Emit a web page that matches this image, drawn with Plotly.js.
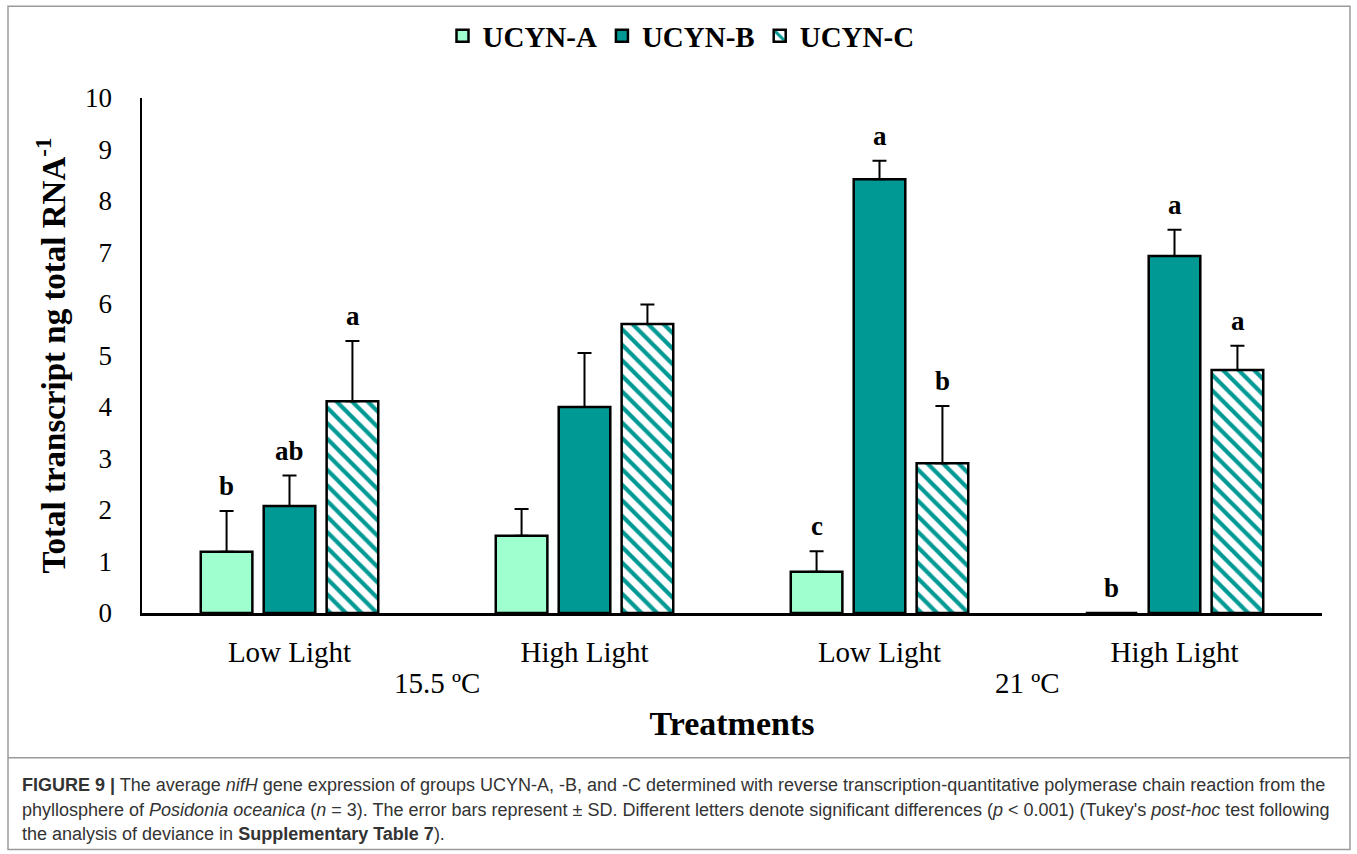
<!DOCTYPE html>
<html>
<head>
<meta charset="utf-8">
<script src="https://cdn.plot.ly/plotly-3.0.1.min.js"></script>
<style>
  html, body { margin: 0; padding: 0; background: #fff; }
  #chart { width: 1357px; height: 854px; }
</style>
</head>
<body>
<div id="chart"></div>
<script>
// ---- Data ----
const temperatures = ['15.5 ºC', '15.5 ºC', '21 ºC', '21 ºC'];
const lightLevels = ['Low Light', 'High Light', 'Low Light', 'High Light'];
const seriesNames = ['UCYN-A', 'UCYN-B', 'UCYN-C'];
const ucynA = [1.19, 1.50, 0.80, 0];
const ucynB = [2.08, 4.00, 8.42, 6.93];
const ucynC = [4.11, 5.61, 2.91, 4.72];
const sdA = [0.79, 0.52, 0.40, 0];
const sdB = [0.59, 1.05, 0.36, 0.51];
const sdC = [1.17, 0.38, 1.11, 0.47];
const lettersA = ['b', '', 'c', 'b'];
const lettersB = ['ab', '', 'a', 'a'];
const lettersC = ['a', '', 'b', 'a'];

// ---- Layout geometry ----
const W = 1357, H = 854;
const L = 142, R = 1322, T = 97, B = 613;
const px = x => (x - L) / (R - L);
const py = y => (B - y) / (B - T);

const serif = 'Liberation Serif, Times New Roman, serif';
const colA = '#9FFFCF', colB = '#009994';
const idx = lightLevels.map((_, i) => i);

function barTrace(name, y, sd, style) {
  return Object.assign({
    type: 'bar',
    name: '<b>' + name + '</b>',
    x: idx,
    y: y,
    customdata: temperatures,
    error_y: { type: 'data', array: sd, arrayminus: sd.map(() => 0), symmetric: false,
               color: '#000', thickness: 2, width: 7 },
  }, style);
}

const traces = [
  barTrace(seriesNames[0], ucynA, sdA, { marker: { color: colA, line: { color: '#000', width: 2.5 } } }),
  barTrace(seriesNames[1], ucynB, sdB, { marker: { color: colB, line: { color: '#000', width: 2.5 } } }),
  barTrace(seriesNames[2], ucynC, sdC, { marker: { color: '#fff', line: { color: '#000', width: 2.5 },
      pattern: { shape: '\\', fgcolor: colB, bgcolor: '#fff', size: 11, solidity: 0.38, fillmode: 'replace' } } })
];

// letter annotations
const slot = 63; // px between bar centres in a group
const annotations = [];
[[lettersA, ucynA, sdA], [lettersB, ucynB, sdB], [lettersC, ucynC, sdC]].forEach((s, j) => {
  s[0].forEach((t, i) => {
    if (!t) return;
    annotations.push({
      xref: 'x', yref: 'y', x: i, y: s[1][i] + s[2][i], xshift: (j - 1) * slot, yshift: 8,
      yanchor: 'bottom', showarrow: false, text: '<b>' + t + '</b>',
      font: { family: serif, size: 27, color: '#000' }
    });
  });
});

// temperature group labels (centred under their groups)
[...new Set(temperatures)].forEach(tp => {
  const ids = idx.filter(i => temperatures[i] === tp);
  annotations.push({
    xref: 'x', yref: 'paper', x: ids.reduce((a, b) => a + b, 0) / ids.length, y: py(683),
    yanchor: 'middle', showarrow: false, text: tp,
    font: { family: serif, size: 29, color: '#000' }
  });
});

// caption
const capFont = { family: 'Liberation Sans, Arial, sans-serif', size: 18, color: '#333' };
const caption = [
  '<b>FIGURE 9 |</b> The average <i>nifH</i> gene expression of groups UCYN-A, -B, and -C determined with reverse transcription-quantitative polymerase chain reaction from the',
  'phyllosphere of <i>Posidonia oceanica</i> (<i>n</i> = 3). The error bars represent ± SD. Different letters denote significant differences (<i>p</i> &lt; 0.001) (Tukey\'s <i>post-hoc</i> test following',
  'the analysis of deviance in <b>Supplementary Table 7</b>).'
];
const capY = [785, 810, 834];
caption.forEach((t, k) => annotations.push({
  xref: 'paper', yref: 'paper', x: px(20), y: py(capY[k]), xanchor: 'left', yanchor: 'middle',
  showarrow: false, text: t, font: capFont, align: 'left'
}));

const shapes = [
  { type: 'rect', xref: 'paper', yref: 'paper', x0: px(8), x1: px(1350), y0: py(5), y1: py(850),
    line: { color: '#9a9a9a', width: 1.5 }, fillcolor: 'rgba(0,0,0,0)' },
  { type: 'line', xref: 'paper', yref: 'paper', x0: px(8), x1: px(1350), y0: py(758), y1: py(758),
    line: { color: '#9a9a9a', width: 1.5 } }
];

const layout = {
  width: W, height: H,
  margin: { l: L, r: W - R, t: T, b: H - B },
  paper_bgcolor: '#fff', plot_bgcolor: '#fff',
  barmode: 'group', bargap: 0.36, bargroupgap: 0.18,
  showlegend: true,
  legend: { orientation: 'h', x: px(681), xanchor: 'center', y: py(36), yanchor: 'middle',
            font: { family: serif, size: 29, color: '#000' }, itemclick: false, traceorder: 'normal' },
  xaxis: {
    range: [-0.5, 3.5], tickvals: idx, ticktext: lightLevels,
    showline: true, linecolor: '#000', linewidth: 2.5,
    ticks: '', showgrid: false, zeroline: false, ticklabelstandoff: 12,
    tickfont: { family: serif, size: 29, color: '#000' },
    title: { text: '<b>Treatments</b>', font: { family: serif, size: 34, color: '#000' }, standoff: 44 }
  },
  yaxis: {
    range: [0, 10], dtick: 1, showline: true, linecolor: '#000', linewidth: 2.5,
    ticks: '', showgrid: false, zeroline: false, ticklabelstandoff: 22,
    tickfont: { family: serif, size: 27, color: '#000' },
    title: { text: '<b>Total transcript ng total RNA<sup>-1</sup></b>', font: { family: serif, size: 33, color: '#000' }, standoff: 10 }
  },
  annotations: annotations,
  shapes: shapes
};

Plotly.newPlot('chart', traces, layout, { displayModeBar: false, staticPlot: true });
</script>
</body>
</html>
